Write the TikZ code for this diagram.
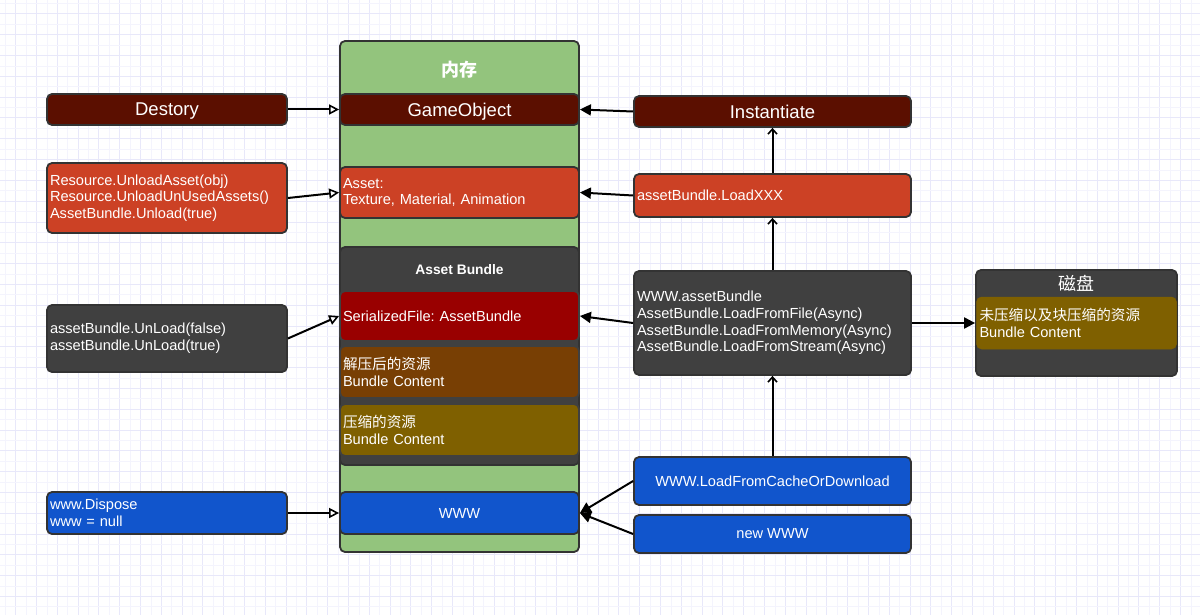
\documentclass[tikz,border=0pt]{standalone}
\usepackage{fontspec}
\setmainfont{Liberation Sans}
\newfontfamily\cjk{Noto Sans CJK SC}
\usetikzlibrary{arrows.meta}
\frenchspacing
\definecolor{boxline}{HTML}{333333}
\definecolor{memgreen}{HTML}{93C47D}
\definecolor{maroon}{HTML}{5B0F00}
\definecolor{brick}{HTML}{CC4125}
\definecolor{dgray}{HTML}{404040}
\definecolor{dred}{HTML}{990000}
\definecolor{brownx}{HTML}{783F04}
\definecolor{olivex}{HTML}{7F6000}
\definecolor{bluex}{HTML}{1155CC}
\definecolor{gridA}{RGB}{232,232,250}
\definecolor{gridB}{RGB}{244,244,253}
\tikzset{
  bx/.style={draw=boxline, line width=1.8pt, rounded corners=5pt, text=white, inner sep=0pt},
  ltext/.style={align=left, inner xsep=3pt},
  opentri/.style={-{Triangle[open, fill=white, length=10pt, width=10pt, line width=1.6pt]}, line width=2pt},
  filltri/.style={-{Triangle[length=11pt, width=11pt]}, line width=2pt},
  barb/.style={-{Straight Barb[length=5pt, width=9pt, line width=1.6pt]}, line width=2pt},
  f18/.style={font=\fontsize{18.5}{21}\selectfont, text depth=0pt},
  f14/.style={font=\fontsize{14.6}{16.7}\selectfont},
}
\begin{document}
\begin{tikzpicture}[x=1pt, y=-1pt]
\useasboundingbox (0,0) rectangle (1200,615);
\fill[white] (0,0) rectangle (1200,615);
% grid
\foreach \i in {0,...,58} {
  \draw[gridB, line width=0.8pt] (5.3+\i*20.8,0) -- (5.3+\i*20.8,615);
  \draw[gridA, line width=1pt] (15.7+\i*20.8,0) -- (15.7+\i*20.8,615);
}
\foreach \j in {0,...,30} {
  \draw[gridB, line width=0.8pt] (0,3.6+\j*20.8) -- (1200,3.6+\j*20.8);
  \draw[gridA, line width=1pt] (0,14+\j*20.8) -- (1200,14+\j*20.8);
}

% memory container
\node[bx, fill=memgreen, minimum width=239pt, minimum height=511pt] (mem) at (459.5,296.5) {};
\node[text=white, font=\fontsize{18}{21}\selectfont\cjk\bfseries] (memt) at (459.5,70) {内存};
\node[bx, fill=maroon, minimum width=239pt, minimum height=31pt, f18] (go) at (459.5,109.5) {GameObject};
\node[bx, fill=brick, minimum width=239pt, minimum height=51pt, f14, ltext, text width=233pt] (asset) at (459.5,192.5) {Asset:\\Texture, Material, Animation};
\node[bx, fill=dgray, minimum width=239pt, minimum height=218pt] (ab) at (459.5,356) {};
\node[text=white, font=\fontsize{13.8}{16}\selectfont\bfseries] (abt) at (459.5,270) {Asset Bundle};
\node[bx, draw=dgray, fill=dred, minimum width=239pt, minimum height=50pt, f14, ltext, text width=233pt] (sf) at (459.5,316) {SerializedFile: AssetBundle};
\node[bx, draw=dgray, fill=brownx, minimum width=239pt, minimum height=52pt, f14, ltext, text width=233pt] (unz) at (459.5,372) {{\cjk 解压后的资源}\\Bundle Content};
\node[bx, draw=dgray, fill=olivex, minimum width=239pt, minimum height=52pt, f14, ltext, text width=233pt] (cmp) at (459.5,430) {{\cjk 压缩的资源}\\Bundle Content};
\node[bx, fill=bluex, minimum width=239pt, minimum height=42pt, f14] (www) at (459.5,513) {WWW};

% left column
\node[bx, fill=maroon, minimum width=240pt, minimum height=31pt, f18] (des) at (167,109.5) {Destory};
\node[bx, fill=brick, minimum width=240pt, minimum height=70pt, f14, ltext, text width=234pt] (res) at (167,198) {Resource.UnloadAsset(obj)\\Resource.UnloadUnUsedAssets()\\AssetBundle.Unload(true)};
\node[bx, fill=dgray, minimum width=240pt, minimum height=67pt, f14, ltext, text width=234pt] (unl) at (167,338.5) {assetBundle.UnLoad(false)\\assetBundle.UnLoad(true)};
\node[bx, fill=bluex, minimum width=240pt, minimum height=42pt, f14, ltext, text width=234pt] (disp) at (167,513) {www.Dispose\\www = null};

% right column
\node[bx, fill=maroon, minimum width=277pt, minimum height=31pt, f18] (inst) at (772.5,111.5) {Instantiate};
\node[bx, fill=brick, minimum width=277pt, minimum height=43pt, f14, ltext, text width=271pt] (lxx) at (772.5,195.5) {assetBundle.LoadXXX};
\node[bx, fill=dgray, minimum width=277pt, minimum height=104pt, f14, ltext, text width=271pt] (wab) at (772.5,323) {WWW.assetBundle\\AssetBundle.LoadFromFile(Async)\\AssetBundle.LoadFromMemory(Async)\\AssetBundle.LoadFromStream(Async)};
\node[bx, fill=bluex, minimum width=277pt, minimum height=48pt, f14] (lfc) at (772.5,481) {WWW.LoadFromCacheOrDownload};
\node[bx, fill=bluex, minimum width=277pt, minimum height=38pt, f14] (nw) at (772.5,534) {new WWW};

% disk
\node[bx, fill=dgray, minimum width=201pt, minimum height=106pt] (disk) at (1076.5,323) {};
\node[text=white, font=\fontsize{18}{20}\selectfont\cjk] (diskt) at (1076.5,283) {磁盘};
\node[bx, draw=olivex, line width=0.5pt, fill=olivex, minimum width=200pt, minimum height=52pt, f14, ltext, text width=194pt] (diskin) at (1076.5,323) {{\cjk 未压缩以及块压缩的资源}\\Bundle Content};

% connectors
\draw[opentri] (des.east) -- (go.west);
\draw[opentri] (res.east) -- (asset.west);
\draw[opentri] (unl.east) -- (sf.west);
\draw[opentri] (disp.east) -- (www.west);
\draw[filltri] (inst.west) -- (go.east);
\draw[filltri] (lxx.west) -- (asset.east);
\draw[filltri] (wab.west) -- (sf.east);
\draw[filltri] (wab.east) -- (disk.west);
\draw[filltri] (lfc.west) -- (www.east);
\draw[filltri] (nw.west) -- (www.east);
\draw[barb] (lxx.north) -- (inst.south);
\draw[barb] (wab.north) -- (lxx.south);
\draw[barb] (lfc.north) -- (wab.south);
\end{tikzpicture}
\end{document}
